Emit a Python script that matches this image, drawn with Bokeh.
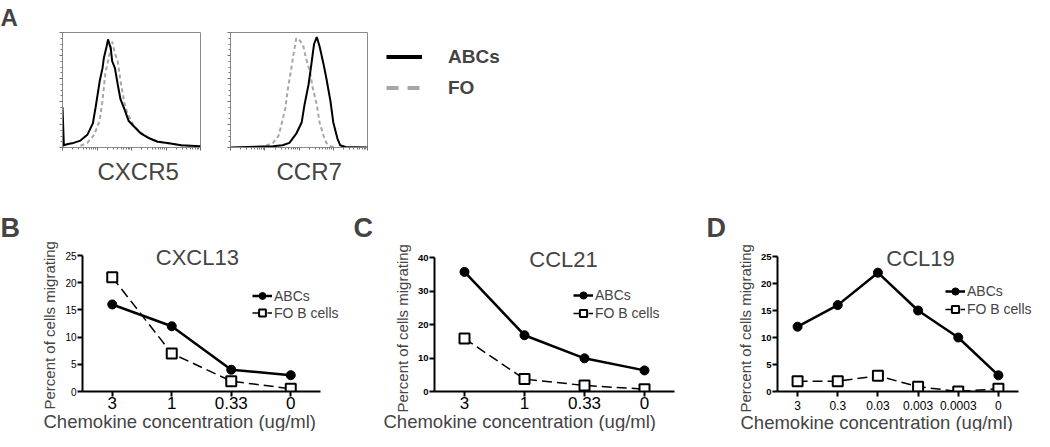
import numpy as np
from bokeh.plotting import figure
from bokeh.models import Range1d, FixedTicker, Label, Legend, LegendItem, Title
from bokeh.layouts import column, row
from bokeh.embed import file_html
from bokeh.resources import INLINE

FONT = "Liberation Sans"

# ---------------- Panel A : flow histograms (x: % of log scale, y: % of max) ----
cxcr5_abc_x = [0, 0, 1, 4, 8, 13, 18, 22, 24, 27, 29, 30, 32, 33, 34, 35, 36, 38, 40,
               42, 45, 48, 52, 57, 62, 69, 76, 86, 100]
cxcr5_abc_y = [0, 35, 2, 3, 4, 6, 11, 21, 35, 58, 69, 78, 88, 94, 90, 86, 75, 69, 55,
               42, 33, 23, 18, 12, 8.5, 5, 4, 2, 1]
cxcr5_fo_x = [13, 18, 23, 27, 29, 31, 34, 36, 38, 40, 42, 45, 47, 52, 57, 64, 74, 86, 96]
cxcr5_fo_y = [1.5, 4, 11, 24, 41, 64, 81, 92, 82, 75, 58, 38, 30, 18, 13, 7, 4, 2, 1]

ccr7_abc_x = [0, 31, 38, 43, 48, 52, 54, 57, 59, 61, 63, 65, 68, 70, 73, 75, 78, 80, 84, 100]
ccr7_abc_y = [0, 1, 2, 4, 12, 22, 37, 55, 72, 90, 96, 88, 72, 60, 40, 22, 8, 2, 0.5, 0]
ccr7_fo_x = [21, 26, 31, 35, 37, 40, 42, 44, 46, 48, 50, 53, 55, 58, 60, 63, 65, 68, 70, 73, 77]
ccr7_fo_y = [0, 1.5, 4, 10, 19, 34, 52, 66, 81, 95, 94, 89, 78, 66, 52, 37, 22, 10, 4, 1, 0]

# ---------------- Panels B-D : migration ----
B_labels = ["3", "1", "0.33", "0"]
B_abcs = [16, 12, 4, 3]
B_fo = [21, 7, 1.9, 0.5]

C_labels = ["3", "1", "0.33", "0"]
C_abcs = [35.7, 16.8, 9.9, 6.3]
C_fo = [15.8, 3.7, 1.8, 0.7]

D_labels = ["3", "0.3", "0.03", "0.003", "0.0003", "0"]
D_abcs = [12, 16, 22, 15, 10, 3]
D_fo = [1.9, 1.9, 2.9, 0.9, 0, 0.5]

GRAY = "#a6a6a6"
ROW1_H = 190
ROW2_H = 241


def hist_fig(width, left, right, xlab, xlab_offset):
    p = figure(width=width, height=ROW1_H, x_range=Range1d(0, 100), y_range=Range1d(0, 100),
               output_backend="svg", toolbar_location=None,
               min_border_left=left, min_border_right=right,
               min_border_top=30, min_border_bottom=43)
    p.xgrid.visible = False
    p.ygrid.visible = False
    p.outline_line_color = "#8a8a8a"
    p.background_fill_color = "white"
    p.border_fill_color = "white"
    xt = [0, 25, 50, 75, 100]
    xminor = [25 * (d + np.log10(k)) for d in range(4) for k in range(2, 10)]
    yt = [0, 20, 40, 60, 80, 100]
    yminor = list(range(0, 101, 5))
    p.xaxis.ticker = FixedTicker(ticks=xt, minor_ticks=xminor)
    p.yaxis.ticker = FixedTicker(ticks=yt, minor_ticks=yminor)
    p.xaxis.major_label_overrides = {t: "" for t in xt}
    p.yaxis.major_label_overrides = {t: "" for t in yt}
    for ax in (p.xaxis, p.yaxis):
        ax.axis_line_color = "#8a8a8a"
        ax.major_tick_line_color = "#666666"
        ax.minor_tick_line_color = "#777777"
        ax.major_tick_out = 3
        ax.major_tick_in = 0
        ax.minor_tick_out = 2
        ax.minor_tick_in = 0
        ax.major_label_standoff = 0
    p.add_layout(Title(text=xlab, align="left", offset=xlab_offset, standoff=10,
                       text_font=FONT, text_font_size="24px", text_font_style="normal"),
                 "below")
    return p


a1 = hist_fig(215, 62, 15, "CXCR5", 35)
a1.line(cxcr5_fo_x, cxcr5_fo_y, line_color=GRAY, line_width=2, line_dash="4 3")
a1.line(cxcr5_abc_x, cxcr5_abc_y, line_color="black", line_width=2)
a1.title.text = "A"
a1.title.align = "left"
a1.title.offset = -62
a1.title.standoff = 3
a1.title.text_font = FONT
a1.title.text_font_size = "24px"
a1.title.text_font_style = "bold"

a2 = hist_fig(160, 15, 8, "CCR7", 46)
a2.line(ccr7_fo_x, ccr7_fo_y, line_color=GRAY, line_width=2, line_dash="4 3")
a2.line(ccr7_abc_x, ccr7_abc_y, line_color="black", line_width=2)

# legend-only panel: the proxies draw the CCR7 curves outside this panel's view
a3 = figure(width=659, height=ROW1_H, x_range=Range1d(1000, 1001), y_range=Range1d(1000, 1001),
            x_axis_type=None, y_axis_type=None, output_backend="svg", toolbar_location=None,
            min_border_left=0, min_border_right=0, min_border_top=30, min_border_bottom=43)
a3.outline_line_color = None
a3.xgrid.visible = False
a3.ygrid.visible = False
lg1 = a3.line(ccr7_abc_x, ccr7_abc_y, line_color="black", line_width=4)
lg2 = a3.line(ccr7_fo_x, ccr7_fo_y, line_color=GRAY, line_width=4, line_dash="12 9")
legA = Legend(items=[LegendItem(label="ABCs", renderers=[lg1]),
                     LegendItem(label="FO", renderers=[lg2])],
              location=(11, 44), glyph_width=36, glyph_height=31, label_height=31,
              spacing=0, padding=0, margin=0, label_standoff=26,
              label_text_font=FONT, label_text_font_style="bold", label_text_font_size="19px",
              border_line_alpha=0, background_fill_alpha=0)
a3.add_layout(legA)


def chem_fig(labels, abcs, fo, ytop, yticks, width, left, axis_px, axis_h,
             tick_size, xtick_standoff, ytick_size, ytick_style, ylab_standoff, ylab_offset,
             title, title_x, title_y, letter, letter_offset, xlab_offset, leg_loc, leg_row):
    n = len(labels)
    xs = list(range(n))
    top, bottom = 52, 40
    frame_h = ROW2_H - top - bottom
    frame_px = width - left
    x_end = -0.5 + n * frame_px / axis_px
    y_end = ytop * frame_h / axis_h
    p = figure(width=width, height=ROW2_H, x_range=Range1d(-0.5, x_end),
               y_range=Range1d(0, y_end), output_backend="svg", toolbar_location=None,
               min_border_left=left, min_border_right=0,
               min_border_top=top, min_border_bottom=bottom)
    p.xgrid.visible = False
    p.ygrid.visible = False
    p.outline_line_color = None
    p.background_fill_color = "white"
    p.border_fill_color = "white"
    r1 = p.line(xs, abcs, line_color="black", line_width=2.5)
    r3 = p.line(xs, fo, line_color="black", line_width=1.5, line_dash="10 5")
    r2 = p.scatter(xs, abcs, marker="circle", size=9, fill_color="black", line_color="black")
    r4 = p.scatter(xs, fo, marker="square", size=10, fill_color="white", line_color="black",
                   line_width=2)
    p.xaxis.ticker = FixedTicker(ticks=xs)
    p.xaxis.major_label_overrides = {i: lab for i, lab in enumerate(labels)}
    p.xaxis.bounds = (-0.5, n - 0.5)
    p.yaxis.ticker = FixedTicker(ticks=yticks)
    p.yaxis.bounds = (0, ytop)
    for ax in (p.xaxis, p.yaxis):
        ax.axis_line_width = 2
        ax.axis_line_color = "black"
        ax.major_tick_line_width = 2
        ax.major_tick_out = 5
        ax.major_tick_in = 0
        ax.minor_tick_out = 0
        ax.minor_tick_in = 0
        ax.major_label_text_font = FONT
        ax.major_label_text_color = "black"
    p.xaxis.major_label_text_font_size = tick_size
    p.xaxis.major_label_standoff = xtick_standoff
    p.yaxis.major_label_text_font_size = ytick_size
    p.yaxis.major_label_text_font_style = ytick_style
    p.yaxis.major_label_standoff = 1
    p.add_layout(Title(text="Percent of cells migrating", align="left", offset=ylab_offset,
                       standoff=ylab_standoff, text_font=FONT, text_font_size="15px",
                       text_font_style="normal"), "left")
    p.add_layout(Title(text="Chemokine concentration (ug/ml)", align="left",
                       offset=xlab_offset, standoff=-6, text_font=FONT,
                       text_font_size="18.5px", text_font_style="normal"), "below")
    p.title.text = letter
    p.title.align = "left"
    p.title.offset = letter_offset
    p.title.standoff = 0
    p.title.text_font = FONT
    p.title.text_font_size = "27px"
    p.title.text_font_style = "bold"
    p.add_layout(Label(x=title_x, y=title_y, text=title, text_font=FONT,
                       text_font_size="22px", text_align="center", text_baseline="alphabetic"))
    leg = Legend(items=[LegendItem(label="ABCs", renderers=[r1, r2]),
                        LegendItem(label="FO B cells", renderers=[r3, r4])],
                 location=leg_loc, glyph_width=20, glyph_height=leg_row, label_height=leg_row,
                 spacing=0, padding=0, margin=0, label_standoff=2,
                 label_text_font=FONT, label_text_font_size="14px",
                 border_line_alpha=0, background_fill_alpha=0)
    p.add_layout(leg)
    return p


b = chem_fig(B_labels, B_abcs, B_fo, 25, [0, 5, 10, 15, 20, 25], 350, 82, 238, 136,
             "17px", 0, "10px", "normal", 10, -18,
             "CXCL13", 1.43, 24.6, "B", -82, -39, (170, 70), 17)
c = chem_fig(C_labels, C_abcs, C_fo, 40, [0, 10, 20, 30, 40], 350, 84, 240, 134,
             "17px", 0, "9.5px", "bold", 7, -21,
             "CCL21", 1.65, 39.4, "C", -81, -51, (139, 69), 18)
d = chem_fig(D_labels, D_abcs, D_fo, 25, [0, 5, 10, 15, 20, 25], 334, 77, 241, 135,
             "12px", 4, "9.5px", "bold", 7, -21,
             "CCL19", 3.06, 24.6, "D", -71, -37, (168, 73), 18)

layout = column(row(a1, a2, a3), row(b, c, d))
open("out.html", "w").write(file_html(layout, INLINE))
